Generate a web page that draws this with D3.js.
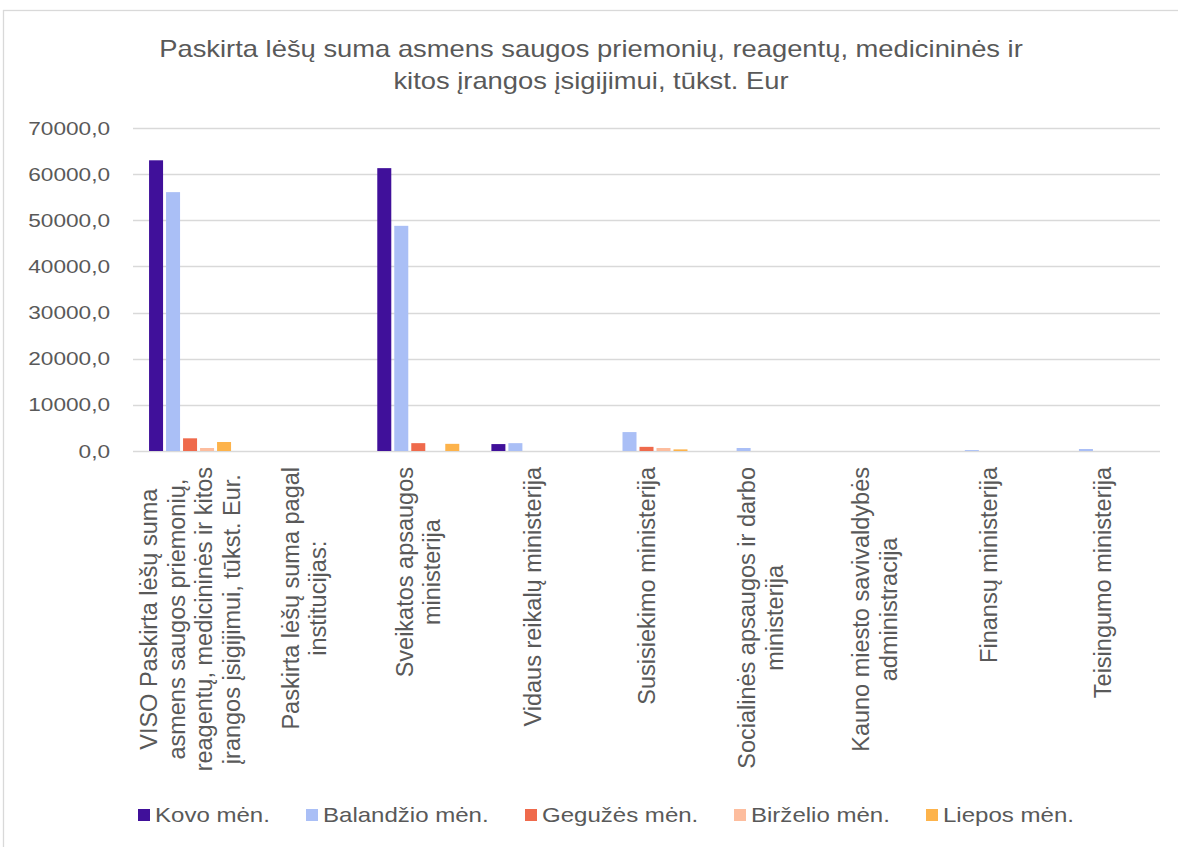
<!DOCTYPE html>
<html>
<head>
<meta charset="utf-8">
<script src="https://cdn.jsdelivr.net/npm/d3@7"></script>
<style>
  html, body { margin: 0; padding: 0; background: #fff; }
  svg { display: block; font-family: "Liberation Sans", Arial, sans-serif; }
</style>
</head>
<body>
<svg id="chart" width="1178" height="847"></svg>
<script>
const categories = [
  "VISO Paskirta lėšų suma asmens saugos priemonių, reagentų, medicininės ir kitos įrangos įsigijimui, tūkst. Eur.",
  "Paskirta lėšų suma pagal institucijas:",
  "Sveikatos apsaugos ministerija",
  "Vidaus reikalų ministerija",
  "Susisiekimo ministerija",
  "Socialinės apsaugos ir darbo ministerija",
  "Kauno miesto savivaldybės administracija",
  "Finansų ministerija",
  "Teisingumo ministerija"
];
const categoryLines = [
  ["VISO Paskirta lėšų suma", "asmens saugos priemonių,", "reagentų, medicininės ir kitos", "įrangos įsigijimui, tūkst. Eur."],
  ["Paskirta lėšų suma pagal", "institucijas:"],
  ["Sveikatos apsaugos", "ministerija"],
  ["Vidaus reikalų ministerija"],
  ["Susisiekimo ministerija"],
  ["Socialinės apsaugos ir darbo", "ministerija"],
  ["Kauno miesto savivaldybės", "administracija"],
  ["Finansų ministerija"],
  ["Teisingumo ministerija"]
];
const seriesNames = ["Kovo mėn.", "Balandžio mėn.", "Gegužės mėn.", "Birželio mėn.", "Liepos mėn."];
const kovo      = [63000, 0, 61300, 1500, 0,    0,   0, 0,   0];
const balandzio = [56100, 0, 48800, 1700, 4100, 650, 0, 200, 430];
const geguzes   = [2750,  0, 1700,  0,    900,  0,   0, 0,   0];
const birzelio  = [650,   0, 0,     0,    650,  0,   0, 0,   0];
const liepos    = [1950,  0, 1550,  0,    350,  0,   0, 0,   0];
const seriesValues = [kovo, balandzio, geguzes, birzelio, liepos];
const colors = ["#40109a", "#aabff6", "#ef6a4c", "#fdbd9e", "#fdb34b"];
const yTicks = [0, 10000, 20000, 30000, 40000, 50000, 60000, 70000];
const titleLines = ["Paskirta lėšų suma asmens saugos priemonių, reagentų, medicininės ir", "kitos įrangos įsigijimui, tūkst. Eur"];

const svg = d3.select("#chart");
const textColor = "#595959";
const gridColor = "#d9d9d9";
const sx = 1.19; // horizontal text stretch seen in the reference

// outer border
svg.append("rect").attr("x", 3.5).attr("y", 10.5).attr("width", 1300).attr("height", 1000)
  .attr("fill", "none").attr("stroke", gridColor).attr("stroke-width", 1.3);

const plot = { left: 133, right: 1160, top: 128, bottom: 451 };

const y = d3.scaleLinear().domain([0, 70000]).range([plot.bottom, plot.top]);
const x0 = d3.scaleBand().domain(categories).range([plot.left, plot.right]).padding(0);
const groupW = 82;
const x1 = d3.scaleBand().domain(seriesNames).range([0, groupW]).paddingInner(0.176).paddingOuter(0);

const loc = d3.formatLocale({ decimal: ",", thousands: "", grouping: [3], currency: ["", "€"] });
const fmt = loc.format(".1f");

// gridlines
svg.append("g").selectAll("line").data(yTicks).join("line")
  .attr("x1", plot.left).attr("x2", plot.right)
  .attr("y1", d => Math.round(y(d)) + 0.5).attr("y2", d => Math.round(y(d)) + 0.5)
  .attr("stroke", gridColor).attr("stroke-width", 1.5);

// y axis labels
const yAxis = d3.axisLeft(y).tickValues(yTicks).tickFormat(fmt).tickSize(0).tickPadding(0);
const yg = svg.append("g").attr("transform", `translate(110,0)`).call(yAxis);
yg.select(".domain").remove();
yg.selectAll("text").attr("fill", textColor).style("font-size", "19px")
  .style("font-family", "'Liberation Sans', Arial, sans-serif")
  .attr("transform", `scale(${sx},1)`);

// bars
const groups = svg.append("g").selectAll("g").data(categories).join("g")
  .attr("transform", d => `translate(${x0(d) + (x0.bandwidth() - groupW) / 2},0)`);
groups.selectAll("rect").data((d, i) => seriesNames.map((s, k) => ({ s, k, v: seriesValues[k][i] })))
  .join("rect")
  .attr("x", d => x1(d.s)).attr("width", x1.bandwidth())
  .attr("y", d => y(d.v)).attr("height", d => plot.bottom - y(d.v))
  .attr("fill", d => colors[d.k]);

// x labels
const lineH = 27.5;
const labelTop = 467;
const xl = svg.append("g").style("font-size", "23.5px").attr("fill", textColor);
categories.forEach((c, i) => {
  const lines = categoryLines[i];
  const cx = x0(c) + x0.bandwidth() / 2;
  const g = xl.append("g").attr("transform", `translate(${cx},${labelTop}) rotate(-90)`);
  const texts = g.selectAll("text").data(lines).join("text")
    .attr("text-anchor", "middle")
    .attr("y", (d, j) => (j - (lines.length - 1) / 2) * lineH)
    .attr("dy", "0.35em")
    .text(d => d);
  let maxL = 0;
  texts.each(function () { maxL = Math.max(maxL, this.getComputedTextLength()); });
  texts.attr("x", -maxL / 2);
});

// title
svg.append("g").attr("transform", `translate(591,0) scale(${sx},1)`)
  .selectAll("text").data(titleLines).join("text")
  .attr("x", 0).attr("y", (d, i) => 57 + i * 32)
  .attr("text-anchor", "middle").attr("fill", textColor).style("font-size", "23px")
  .text(d => d);

// legend
const legendX = [138, 306, 525, 734, 926];
const lg = svg.append("g").selectAll("g").data(seriesNames).join("g")
  .attr("transform", (d, i) => `translate(${legendX[i]},815)`);
lg.append("rect").attr("x", 0).attr("y", -6).attr("width", 12).attr("height", 12)
  .attr("fill", (d, i) => colors[i]);
lg.append("text").attr("transform", `translate(17,0) scale(1.145,1)`).attr("dy", "0.35em").attr("fill", textColor)
  .style("font-size", "21px").text(d => d);
</script>
</body>
</html>
